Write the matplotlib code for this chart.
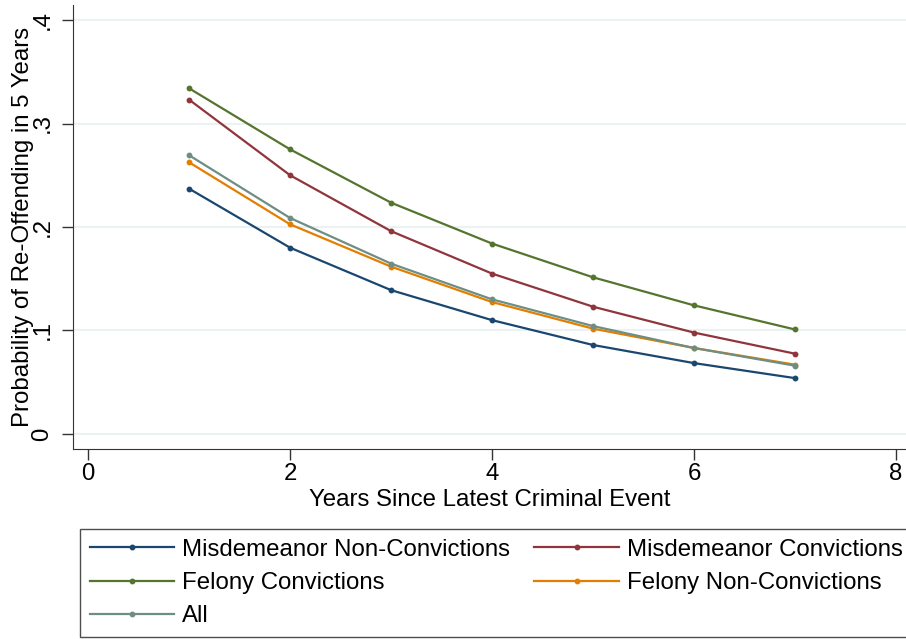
import numpy as np
import matplotlib
matplotlib.use("Agg")
import matplotlib.pyplot as plt

years = [1, 2, 3, 4, 5, 6, 7]
misd_nonconv = [0.237, 0.180, 0.139, 0.110, 0.086, 0.0685, 0.054]
misd_conv = [0.323, 0.250, 0.196, 0.155, 0.123, 0.098, 0.0776]
fel_conv = [0.334, 0.275, 0.2235, 0.184, 0.1514, 0.1243, 0.101]
fel_nonconv = [0.2625, 0.2026, 0.1617, 0.1275, 0.1018, 0.0831, 0.067]
all_events = [0.2693, 0.2087, 0.1646, 0.1301, 0.1043, 0.0831, 0.066]

series = [
    ("Misdemeanor Non-Convictions", misd_nonconv, "#1a476f"),
    ("Misdemeanor Convictions", misd_conv, "#90353b"),
    ("Felony Convictions", fel_conv, "#55752f"),
    ("Felony Non-Convictions", fel_nonconv, "#e37e00"),
    ("All", all_events, "#6e8e84"),
]

plt.rcParams['font.family'] = ['Liberation Sans', 'DejaVu Sans']
fs = 17.3

fig = plt.figure(figsize=(9.06, 6.39), dpi=100)
ax = fig.add_axes([73 / 906, 1 - 449 / 639, 1 - 73 / 906, (449 - 5) / 639])

handles = {}
for label, vals, color in series:
    h, = ax.plot(years, vals, color=color, linewidth=1.6, marker="o", markersize=3.2, label=label)
    handles[label] = h

ax.set_xlim(-0.15, 8.1)
ax.set_ylim(-0.0145, 0.4145)
ax.set_xticks([0, 2, 4, 6, 8])
ax.set_yticks([0, 0.1, 0.2, 0.3, 0.4])
ax.set_yticklabels(["0", ".1", ".2", ".3", ".4"], rotation=90, va="center")
ax.tick_params(axis="both", labelsize=fs, length=8, width=1, color="#333333")
ax.tick_params(axis="x", pad=2)
ax.tick_params(axis="y", pad=6)
ax.grid(axis="y", color="#eaf2f3", linewidth=1.5)
ax.set_axisbelow(True)
for s in ["top", "right"]:
    ax.spines[s].set_visible(False)
for s in ["left", "bottom"]:
    ax.spines[s].set_color("#333333")

ax.set_xlabel("Years Since Latest Criminal Event", fontsize=fs, labelpad=3)
# the original's y title sits on top of the tick labels
ax.set_ylabel("Probability of Re-Offending in 5 Years", fontsize=fs)
ax.yaxis.set_label_coords(-0.047, 0.5)

# row-major order like the original: matplotlib fills columns first
order = ["Misdemeanor Non-Convictions", "Felony Convictions", "All",
         "Misdemeanor Convictions", "Felony Non-Convictions"]
leg = fig.legend(handles=[handles[k] for k in order], loc="lower left",
                 bbox_to_anchor=(80 / 906, 2 / 639, 832 / 906, 110 / 639),
                 mode="expand", ncol=2, fontsize=fs, frameon=True, fancybox=False,
                 edgecolor="#222222", handlelength=3.5, handletextpad=0.33,
                 borderaxespad=0, columnspacing=0.5, labelspacing=0.47)
leg.get_frame().set_linewidth(1.0)

fig.savefig("out.png", dpi=100)
